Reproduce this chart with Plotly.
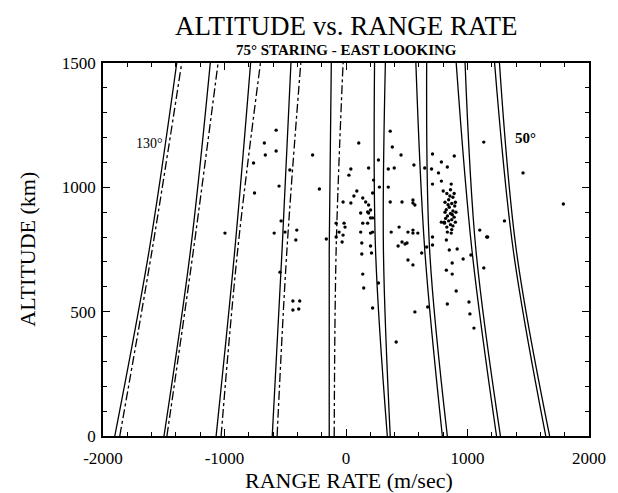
import plotly.graph_objects as go

# ---------------- data ----------------
LINE_ALT = [0, 750, 1500]                      # km
ELEVATIONS = [130, 120, 110, 100, 90, 80, 70, 60, 50]   # deg

# first (left) member of each pair: range rate at alt 0 / 750 / 1500
RR_A_BOTTOM = [-1903, -1498, -1069, -607, -138, 340, 793, 1239, 1644]
RR_A_MID    = [-1619, -1279, -915, -526, -138, 243, 648, 1036, 1376]
RR_A_TOP    = [-1393, -1117, -785, -453, -121, 235, 575, 907, 1223]
# second (right) member of each pair
RR_B_BOTTOM = [-1862, -1474, -1028, -567, -97, 364, 834, 1271, 1676]
RR_B_MID    = [-1595, -1255, -891, -486, -81, 308, 688, 1069, 1401]
RR_B_TOP    = [-1352, -1053, -704, -372, -24, 324, 664, 980, 1263]

# observed objects
OBS_RATE = [
    -575, -672, -664, -575, -275, -761, -551, -219, -753, -996, -591, -534,
    -405, -413, -502, -462, -543, -437, -381, -437, -389, -162,
    105, 40, 24, 186, 89, 65, 138, 162, -24, 40, 186, 202, 178, 227,
    364, 381, 453, 267, 348, 397, 275, 348, 219, 364,
    -16, -8, -24, -32, 138, 121, 202, 202, 130, 210, 130, 138, 146, 219,
    219, 202, 372, 437, 429, 486, 510, 551, 567, 672, 413, 267,
    461, 551, 567, 510, 551, 461, 502, -81, -57, -81, 121, 186, 219, 178,
    559, 712, 785, 891, 834, 704, 648, 761, 712, 785, 866, 551,
    1134, 1457, 1789, 1304, 1158, 551, 591, 623, 712, 712, 850, 915, 874,
    826, 874, 964, 907, 834, 1012, 1020, 1053, 1134, 1101, 1166, 1028, 664,
    800, 830, 860, 880, 845, 815, 870, 895, 850, 825, 880, 905, 860, 835,
    890, 870, 845, 810, 900, 860, 880, 830, 870, 890, 815, 855, 900, 840,
    875, 820, 785, 810, 834, 866, 826,
]
OBS_ALT = [
    1230, 1178, 1130, 1146, 1130, 1098, 1005, 993, 977, 816, 816, 865,
    828, 788, 820, 1070, 659, 543, 543, 507, 511, 792,
    1178, 1074, 1049, 1078, 985, 965, 957, 941, 941, 937, 929, 909, 901, 1029,
    1226, 1162, 1130, 1110, 1074, 1078, 1001, 1001, 977, 941,
    856, 840, 808, 780, 856, 820, 877, 816, 776, 736, 732, 651, 595, 515,
    820, 764, 820, 840, 764, 772, 708, 688, 499, 519, 378, 615,
    941, 937, 929, 820, 816, 780, 776, 856, 820, 800, 897, 897, 877, 856,
    1090, 1134, 1102, 1126, 1082, 1074, 1078, 1058, 1013, 1025, 1013, 949,
    1182, 1058, 933, 865, 800, 828, 816, 736, 800, 768, 748, 752, 696,
    667, 651, 712, 583, 531, 539, 491, 434, 676, 828, 800, 728, 760,
    985, 975, 990, 960, 950, 940, 935, 925, 920, 910, 905, 900, 895, 885,
    880, 870, 865, 860, 860, 850, 845, 840, 830, 975, 900, 965, 940, 930,
    890, 875, 860, 856, 820, 816, 788,
]

X_TICKS = [-2000, -1000, 0, 1000, 2000]
Y_TICKS = [0, 500, 1000, 1500]

SERIF = "Liberation Serif"

fig = go.Figure()

for i, ang in enumerate(ELEVATIONS):
    xa = [RR_A_BOTTOM[i], RR_A_MID[i], RR_A_TOP[i]]
    xb = [RR_B_BOTTOM[i], RR_B_MID[i], RR_B_TOP[i]]
    fig.add_trace(go.Scatter(
        x=xa, y=LINE_ALT, mode="lines",
        line=dict(color="black", width=1.3, shape="spline", smoothing=1.0),
        showlegend=False, hoverinfo="skip"))
    fig.add_trace(go.Scatter(
        x=xb, y=LINE_ALT, mode="lines",
        line=dict(color="black", width=1.3, shape="spline", smoothing=1.0,
                  dash="dashdot" if ang >= 90 else "solid"),
        showlegend=False, hoverinfo="skip"))

fig.add_trace(go.Scatter(
    x=OBS_RATE, y=OBS_ALT, mode="markers",
    marker=dict(color="black", size=3.4),
    showlegend=False, hoverinfo="skip"))

annotations = [
    dict(text="ALTITUDE vs. RANGE RATE", xref="paper", yref="paper",
         x=0.5, y=1.099, xanchor="center", yanchor="middle", showarrow=False,
         font=dict(family=SERIF, size=27, color="black")),
    dict(text="<b>75° STARING - EAST LOOKING</b>", xref="paper", yref="paper",
         x=0.5, y=1.036, xanchor="center", yanchor="middle", showarrow=False,
         font=dict(family=SERIF, size=15, color="black")),
    dict(text="RANGE RATE (m/sec)", xref="paper", yref="paper",
         x=0.506, y=-0.12, xanchor="center", yanchor="middle", showarrow=False,
         font=dict(family=SERIF, size=22, color="black")),
    dict(text="ALTITUDE (km)", xref="paper", yref="paper",
         x=-0.156, y=0.50, xanchor="center", yanchor="middle", showarrow=False,
         textangle=-90, font=dict(family=SERIF, size=22, color="black")),
    dict(text=f"{ELEVATIONS[0]}°", x=-1619, y=1178, xref="x", yref="y",
         showarrow=False, xanchor="center", yanchor="middle",
         font=dict(family=SERIF, size=14, color="black")),
    dict(text=f"<b>{ELEVATIONS[-1]}°</b>", x=1474, y=1200, xref="x", yref="y",
         showarrow=False, xanchor="center", yanchor="middle",
         font=dict(family=SERIF, size=15, color="black")),
]

axis_common = dict(
    showline=True, linecolor="black", linewidth=1.6, mirror="allticks",
    showgrid=False, zeroline=False, ticks="inside", ticklen=7, tickwidth=1.2,
    tickcolor="black",
    tickfont=dict(family=SERIF, size=17, color="black"),
)

# page body has an 8px default margin, so the figure is sized to fit the window
fig.update_layout(
    width=610, height=485,
    margin=dict(l=95, r=21, t=55, b=57),
    paper_bgcolor="white", plot_bgcolor="white",
    annotations=annotations,
    xaxis=dict(range=[-2000, 2000], tickvals=X_TICKS,
               ticktext=[str(v) for v in X_TICKS],
               ticklabelstandoff=6,
               minor=dict(dtick=200, ticks="inside", ticklen=4, tickcolor="black"),
               **axis_common),
    yaxis=dict(range=[0, 1500], tickvals=Y_TICKS,
               ticktext=[str(v) for v in Y_TICKS],
               ticklabelstandoff=2,
               minor=dict(dtick=100, ticks="inside", ticklen=4, tickcolor="black"),
               **axis_common),
)

fig.write_html("out.html")
